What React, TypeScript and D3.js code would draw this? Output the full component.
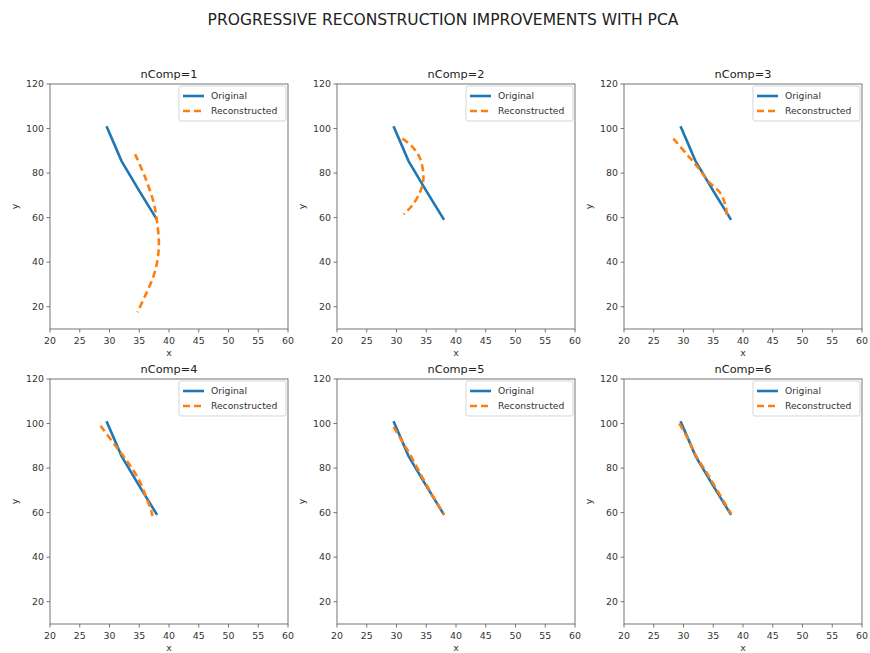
import React from "react";
import * as d3 from "d3";

const panelTitles = ["nComp=1", "nComp=2", "nComp=3", "nComp=4", "nComp=5", "nComp=6"];
const seriesNames = ["Original", "Reconstructed"];
const xTicks = [20, 25, 30, 35, 40, 45, 50, 55, 60];
const yTicks = [20, 40, 60, 80, 100, 120];

const originalX = [29.5, 30.8, 32, 35, 38];
const originalY = [101, 93, 85.5, 72, 59];

const recon1X = [34.3, 36, 37.4, 38, 38.3, 38, 37.3, 36, 34.7];
const recon1Y = [88.5, 78, 67, 58, 48, 40, 33, 25, 17.5];
const recon2X = [31, 32.6, 33.9, 34.5, 34.4, 33.6, 32.5, 31.2];
const recon2Y = [95.5, 92, 87, 80, 75, 69.5, 65, 61.5];
const recon3X = [28.3, 30.7, 32.3, 34.3, 36.2, 37.1, 37.3];
const recon3Y = [95.5, 88, 83, 76, 71, 65, 60.5];
const recon4X = [28.5, 31, 33, 35, 36.3, 37, 37.2];
const recon4Y = [99, 90, 83, 74.5, 66, 61, 58.5];
const recon5X = [29.5, 31.2, 32.3, 34, 36, 38];
const recon5Y = [98.5, 91, 86, 77.5, 68, 59];
const recon6X = [29.3, 30.8, 32, 34, 36, 38];
const recon6Y = [100, 93, 86, 77.5, 68.5, 59.5];

const reconX = [recon1X, recon2X, recon3X, recon4X, recon5X, recon6X];
const reconY = [recon1Y, recon2Y, recon3Y, recon4Y, recon5Y, recon6Y];

const W = 870;
const H = 653;
const colLefts = [50, 337, 624];
const rowTops = [84, 379];
const PW = 238;
const PH = 245;
const BLUE = "#1f77b4";
const ORANGE = "#ff7f0e";
const FONT = "DejaVu Sans, sans-serif";

function Panel({ idx }: { idx: number }) {
  const left = colLefts[idx % 3];
  const top = rowTops[Math.floor(idx / 3)];
  const x = d3.scaleLinear().domain([20, 60]).range([0, PW]);
  const y = d3.scaleLinear().domain([10, 120]).range([PH, 0]);
  const origPts: [number, number][] = originalX.map((v, i) => [v, originalY[i]]);
  const recPts: [number, number][] = reconX[idx].map((v, i) => [v, reconY[idx][i]]);
  const straight = d3.line<[number, number]>().x((d) => x(d[0])).y((d) => y(d[1]));
  const smooth = d3
    .line<[number, number]>()
    .x((d) => x(d[0]))
    .y((d) => y(d[1]))
    .curve(d3.curveCatmullRom.alpha(0.5));
  const lgW = 107;
  const lgX = PW - 2 - lgW;
  const lgY = 2;
  return (
    <g transform={`translate(${left},${top})`}>
      <text x={PW / 2} y={-6} textAnchor="middle" fontSize={11.3} fill="#222" fontFamily={FONT}>
        {panelTitles[idx]}
      </text>
      <path d={straight(origPts) || ""} fill="none" stroke={BLUE} strokeWidth={2.6} strokeLinejoin="round" />
      <path
        d={smooth(recPts) || ""}
        fill="none"
        stroke={ORANGE}
        strokeWidth={2.6}
        strokeDasharray="7,4"
      />
      <rect x={0} y={0} width={PW} height={PH} fill="none" stroke="#666" strokeWidth={0.9} />
      {xTicks.map((t) => (
        <g key={"x" + t} transform={`translate(${x(t)},${PH})`}>
          <line y2={3.5} stroke="#666" strokeWidth={0.9} />
          <text y={15} textAnchor="middle" fontSize={9.4} fill="#333" fontFamily={FONT}>
            {t}
          </text>
        </g>
      ))}
      {yTicks.map((t) => (
        <g key={"y" + t} transform={`translate(0,${y(t)})`}>
          <line x2={-3.5} stroke="#666" strokeWidth={0.9} />
          <text x={-6} dy="0.34em" textAnchor="end" fontSize={9.4} fill="#333" fontFamily={FONT}>
            {t}
          </text>
        </g>
      ))}
      <text x={PW / 2} y={PH + 27} textAnchor="middle" fontSize={9.4} fill="#333" fontFamily={FONT}>
        x
      </text>
      <text
        transform={`translate(${-32},${PH / 2}) rotate(-90)`}
        textAnchor="middle"
        fontSize={9.4}
        fill="#333"
        fontFamily={FONT}
      >
        y
      </text>
      <g transform={`translate(${lgX},${lgY})`}>
        <rect width={lgW} height={35} rx={2} fill="white" fillOpacity={0.8} stroke="#d0d0d0" strokeWidth={0.9} />
        <line x1={4} x2={25} y1={10} y2={10} stroke={BLUE} strokeWidth={2.6} />
        <line x1={4} x2={25} y1={25} y2={25} stroke={ORANGE} strokeWidth={2.6} strokeDasharray="7,4" />
        <text x={32} y={13.3} fontSize={9.2} fill="#333" fontFamily={FONT}>
          {seriesNames[0]}
        </text>
        <text x={32} y={28.3} fontSize={9.2} fill="#333" fontFamily={FONT}>
          {seriesNames[1]}
        </text>
      </g>
    </g>
  );
}

export default function App() {
  return (
    <svg
      width={W}
      height={H}
      style={{ position: "absolute", left: 0, top: 0, background: "white" }}
    >
      <rect width={W} height={H} fill="white" />
      <text x={443} y={24.5} textAnchor="middle" fontSize={15.5} fill="#222" fontFamily={FONT}>
        PROGRESSIVE RECONSTRUCTION IMPROVEMENTS WITH PCA
      </text>
      {panelTitles.map((_, i) => (
        <Panel key={i} idx={i} />
      ))}
    </svg>
  );
}
